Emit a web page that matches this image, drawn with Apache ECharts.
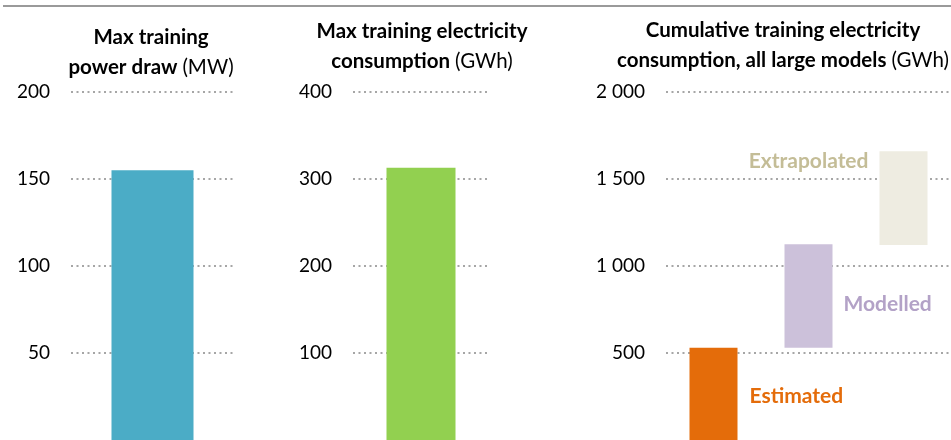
<!DOCTYPE html>
<html>
<head>
<meta charset="utf-8">
<script src="https://cdn.jsdelivr.net/npm/echarts@6/dist/echarts.min.js"></script>
<style>
  html, body { margin: 0; padding: 0; background: #fff; }
  #chart { width: 951px; height: 440px; }
</style>
</head>
<body>
<div id="chart"></div>
<script>
// panel values
const powerDraw = [155]          // MW
const maxElectricity = [313]     // GWh
const cumCategories = ['Estimated', 'Modelled', 'Extrapolated']
const cumLow = [0, 530, 1120]    // GWh, bottom of each floating bar
const cumHigh = [530, 1125, 1660] // GWh, top of each floating bar

const FONT = 'Lato'
const barColors = ['#e46c0a', '#ccc1da', '#eeece1']
const labelColors = ['#e46c0a', '#b3a2c7', '#c4bd97']

const chart = echarts.init(document.getElementById('chart'))

const fmt = v => String(v).replace(/\B(?=(\d{3})+(?!\d))/g, ' ')

function yAxis(gridIndex, max, interval) {
  return {
    type: 'value', gridIndex, min: 0, max, interval,
    axisLine: { show: false }, axisTick: { show: false },
    axisLabel: { color: '#000', fontFamily: FONT, fontSize: 19, margin: 21, formatter: fmt,
      showMinLabel: false },
    splitLine: { showMinLine: false, lineStyle: { color: '#a6a6a6', width: 2, type: [2, 3.5] } }
  }
}
function xAxis(gridIndex, data) {
  return {
    type: 'category', gridIndex, data,
    axisLine: { show: false }, axisTick: { show: false }, axisLabel: { show: false }
  }
}
function title(text, x, top) {
  return {
    text, left: x, top, textAlign: 'center', padding: 0,
    textStyle: {
      fontFamily: FONT, fontSize: 20.5, lineHeight: 30, color: '#000',
      rich: {
        b: { fontFamily: FONT, fontSize: 20.5, fontWeight: 'bold', lineHeight: 30, color: '#000' },
        n: { fontFamily: FONT, fontSize: 20.5, fontWeight: 'normal', lineHeight: 30, color: '#000' }
      }
    }
  }
}

const labelPos = [
  { position: 'right', distance: 12, offset: [0, 2] },
  { position: 'right', distance: 11, offset: [0, 8] },
  { position: 'left', distance: 11, offset: [0, -37] }
]

const option = {
  animation: false,
  graphic: [{ type: 'rect', shape: { x: 3, y: 5, width: 948, height: 2 }, style: { fill: '#9a9a9a' } }],
  title: [
    title('{b|Max training}\n{b|power draw} {n|(MW)}', 151, 22),
    title('{b|Max training electricity}\n{b|consumption} {n|(GWh)}', 422, 16),
    title('{b|Cumulative training electricity}\n{b|consumption, all large models} {n|(GWh)}', 783, 15)
  ],
  grid: [
    { left: 71, top: 92, width: 163, bottom: 0 },
    { left: 353, top: 92, width: 136, bottom: 0 },
    { left: 666, top: 92, right: 0, bottom: 0 }
  ],
  xAxis: [xAxis(0, ['a']), xAxis(1, ['a']), xAxis(2, cumCategories)],
  yAxis: [yAxis(0, 200, 50), yAxis(1, 400, 100), yAxis(2, 2000, 500)],
  series: [
    { type: 'bar', xAxisIndex: 0, yAxisIndex: 0, data: powerDraw, barWidth: 82,
      itemStyle: { color: '#4bacc6' } },
    { type: 'bar', xAxisIndex: 1, yAxisIndex: 1, data: maxElectricity, barWidth: 69,
      itemStyle: { color: '#92d050' } },
    { type: 'bar', xAxisIndex: 2, yAxisIndex: 2, stack: 'cum', data: cumLow, barWidth: 48,
      itemStyle: { color: 'transparent' }, silent: true },
    { type: 'bar', xAxisIndex: 2, yAxisIndex: 2, stack: 'cum', barWidth: 48,
      data: cumHigh.map((h, i) => ({
        value: h - cumLow[i],
        itemStyle: { color: barColors[i] },
        label: {
          show: true, formatter: cumCategories[i], color: labelColors[i],
          fontFamily: FONT, fontSize: 21, fontWeight: 'bold', ...labelPos[i]
        }
      }))
    }
  ]
}
chart.setOption(option)
</script>
</body>
</html>
